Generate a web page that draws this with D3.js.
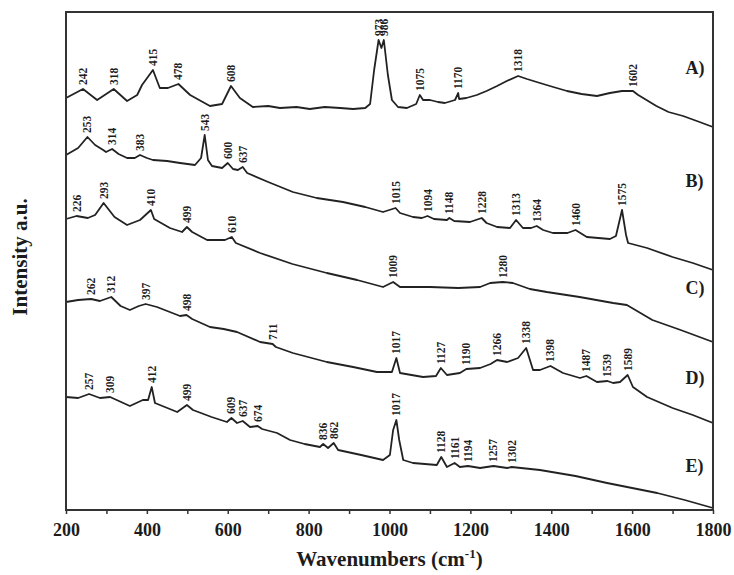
<!DOCTYPE html>
<html>
<head>
<meta charset="utf-8">
<script src="https://cdn.jsdelivr.net/npm/d3@7/dist/d3.min.js"></script>
<style>
  body { margin:0; background:#fff; }
  text { font-family: "Liberation Serif", "DejaVu Serif", serif; font-weight:bold; fill:#1c1c1c; }
</style>
</head>
<body>
<svg id="raman" width="734" height="575"></svg>
<script>
// spectra: [wavenumber cm-1, intensity a.u.]
var specA = [[200,412],[242,421],[277,410],[318,421],[351,409],[376,415],[388,425],[415,440],[432,422],[452,422],[478,426],[507,415],[556,404],[586,406],[608,424],[630,412],[662,403],[700,404],[729,402],[770,403],[803,401],[840,403],[878,402],[910,401],[940,402],[952,406],[962,440],[973,470],[980,462],[986,470],[996,435],[1006,410],[1021,403],[1043,402],[1066,406],[1075,415],[1083,410],[1100,410],[1120,408],[1137,407],[1162,410],[1170,417],[1172,411],[1190,412],[1216,415],[1240,419],[1266,424],[1290,429],[1318,434],[1340,431],[1372,427],[1405,423],[1439,419],[1475,416],[1513,414],[1545,417],[1575,419],[1602,419],[1615,415],[1660,404],[1690,398],[1726,394],[1760,389],[1800,383]]
var specB = [[200,355],[230,362],[253,373],[272,365],[292,360],[299,358],[314,361],[330,356],[351,352],[370,352],[383,355],[400,352],[415,350],[450,349],[482,347],[519,345],[534,352],[543,375],[551,350],[561,344],[586,342],[600,347],[613,341],[625,340],[637,343],[648,337],[700,328],[761,318],[820,312],[885,308],[940,303],[984,298],[1015,302],[1026,297],[1058,293],[1080,292],[1094,294],[1110,291],[1142,290],[1148,292],[1160,289],[1199,288],[1228,292],[1240,287],[1266,283],[1298,282],[1313,290],[1330,282],[1350,282],[1364,284],[1380,280],[1404,277],[1440,277],[1460,280],[1488,273],[1545,271],[1560,274],[1575,300],[1585,275],[1590,267],[1637,262],[1700,253],[1750,247],[1800,240]]
var specC = [[200,291],[226,294],[254,292],[272,295],[293,307],[320,293],[351,285],[383,290],[410,300],[418,291],[457,282],[487,278],[499,283],[512,278],[549,270],[593,270],[610,273],[620,267],[680,257],[760,246],[845,237],[920,230],[984,223],[1009,228],[1026,223],[1100,223],[1170,222],[1224,223],[1249,227],[1280,228],[1305,227],[1347,221],[1389,218],[1470,213],[1553,207],[1587,205],[1650,190],[1720,180],[1800,168]]
var specD = [[200,208],[230,210],[262,211],[284,209],[312,213],[335,204],[358,200],[380,204],[397,206],[425,203],[482,194],[498,195],[512,191],[556,183],[590,181],[623,178],[680,168],[711,166],[719,163],[761,157],[845,148],[910,143],[969,138],[1006,138],[1017,152],[1026,137],[1083,133],[1115,134],[1127,142],[1142,135],[1174,137],[1190,141],[1224,142],[1250,146],[1266,150],[1291,148],[1318,152],[1338,162],[1355,140],[1372,140],[1398,144],[1429,137],[1471,132],[1487,134],[1513,128],[1539,129],[1553,127],[1570,128],[1589,135],[1602,123],[1637,113],[1700,102],[1750,95],[1800,87]]
var specE = [[200,113],[230,112],[257,116],[284,112],[309,113],[358,104],[390,110],[403,110],[412,123],[420,107],[475,98],[499,105],[514,100],[560,93],[598,88],[609,92],[623,87],[637,89],[655,83],[674,84],[685,81],[722,77],[754,70],[790,66],[828,63],[836,66],[848,62],[862,67],[873,60],[930,55],[984,50],[1001,55],[1009,80],[1017,90],[1024,70],[1034,50],[1058,47],[1117,45],[1128,53],[1142,43],[1161,47],[1174,43],[1194,44],[1224,42],[1257,44],[1291,42],[1302,43],[1372,40],[1460,34],[1538,27],[1600,22],[1662,17],[1730,10],[1800,2]]

// labelled bands
var peaksA = [242,318,415,478,608,973,986,1075,1170,1318,1602]
var peaksB = [253,314,383,543,600,637,1015,1094,1148,1228,1313,1364,1460,1575]
var peaksC = [226,293,410,499,610,1009,1280]
var peaksD = [262,312,397,498,711,1017,1127,1190,1266,1338,1398,1487,1539,1589]
var peaksE = [257,309,412,499,609,637,674,836,862,1017,1128,1161,1194,1257,1302]

var seriesNames = ["A)","B)","C)","D)","E)"]
var xTicks = d3.range(200, 1801, 100)

var valueAt = function(data, w) {
    var i = d3.bisector(function(d){ return d[0] }).left(data, w)
    if (i <= 0) return data[0][1]
    if (i >= data.length) return data[data.length-1][1]
    var a = data[i-1], b = data[i]
    return a[1] + (b[1]-a[1]) * (w-a[0]) / (b[0]-a[0])
}

var drawLines = function(dataReady, target, xScale, yScale) {
    var line = d3.line()
      .x(function(d) { return xScale(d[0]) })
      .y(function(d) { return yScale(d[1]) })

    target.selectAll("mySpectra")
      .data(dataReady)
      .enter()
      .append("path")
        .attr("d", function(d){ return line(d.values) })
        .attr("stroke", "#222")
        .style("stroke-width", 1.8)
        .style("stroke-linejoin", "round")
        .style("fill", "none")

    // band labels, vertical, sitting on top of each peak
    dataReady.forEach(function(s) {
        target.selectAll(null)
          .data(s.peaks)
          .enter()
          .append("text")
            .attr("transform", function(w) {
                return "translate(" + xScale(w) + "," + (yScale(valueAt(s.values, w)) - 4) + ") rotate(-90)"
            })
            .attr("dy", "0.35em")
            .style("font-size", "11.5px")
            .text(function(w){ return w })
    })

    // series letters on the right
    var letterY = {"A)":436, "B)":323, "C)":216, "D)":126, "E)":38}
    target.selectAll("myLetters")
      .data(dataReady)
      .enter()
      .append("text")
        .attr("x", xScale(1732))
        .attr("y", function(d){ return yScale(letterY[d.name]) })
        .style("font-size", "18px")
        .text(function(d){ return d.name })
}

var drawAxes = function(graph, margin, xScale) {
    var svg = d3.select("#raman")

    var xAxis = d3.axisBottom(xScale)
        .tickValues(xTicks)
        .tickSize(4)
        .tickFormat(function(d){ return d % 200 == 0 ? d : "" })

    var ax = svg.append("g")
        .attr("class", "axis-x")
        .attr("transform", "translate(" + margin.left + "," + (margin.top + graph.height) + ")")
        .call(xAxis)
    ax.select(".domain").remove()
    ax.selectAll("line").attr("stroke", "#333").attr("stroke-width", 1.5)
    ax.selectAll("text")
        .attr("dy", "1.05em")
        .style("font-size", "18px")
        .style("font-family", "'Liberation Serif', serif")
        .style("font-weight", "bold")
        .attr("fill", "#1c1c1c")

    // frame
    svg.append("rect")
        .attr("x", margin.left)
        .attr("y", margin.top)
        .attr("width", graph.width)
        .attr("height", graph.height)
        .attr("fill", "none")
        .attr("stroke", "#333")
        .attr("stroke-width", 2)
}

var drawLabels = function(graph, margin) {
    var svg = d3.select("#raman")

    var title = svg.append("text")
        .attr("text-anchor", "middle")
        .attr("x", margin.left + graph.width/2)
        .attr("y", 566)
        .style("font-size", "21px")
    title.append("tspan").text("Wavenumbers (cm")
    title.append("tspan").attr("dy", -8).style("font-size", "13px").text("-1")
    title.append("tspan").attr("dy", 8).text(")")

    svg.append("text")
        .attr("text-anchor", "middle")
        .attr("transform", "translate(27," + 257 + ") rotate(-90)")
        .style("font-size", "21px")
        .text("Intensity a.u.")
}

var initGraph = function() {
    var screen = {width:734, height:575}
    var margin = {left:66, right:21, top:12, bottom:65}
    var graph = {
        width: screen.width - margin.left - margin.right,
        height: screen.height - margin.top - margin.bottom
    }

    var specs = [specA, specB, specC, specD, specE]
    var peaks = [peaksA, peaksB, peaksC, peaksD, peaksE]
    var dataReady = seriesNames.map(function(name, i) {
        return {name: name, values: specs[i], peaks: peaks[i]}
    })

    var target = d3.select("#raman")
        .append("g")
        .attr("transform", "translate(" + margin.left + "," + margin.top + ")")

    var xScale = d3.scaleLinear()
        .domain([200, 1800])
        .range([0, graph.width])

    var yScale = d3.scaleLinear()
        .domain([0, 498])
        .range([graph.height, 0])

    drawLines(dataReady, target, xScale, yScale)
    drawAxes(graph, margin, xScale)
    drawLabels(graph, margin)
}

initGraph()
</script>
</body>
</html>
